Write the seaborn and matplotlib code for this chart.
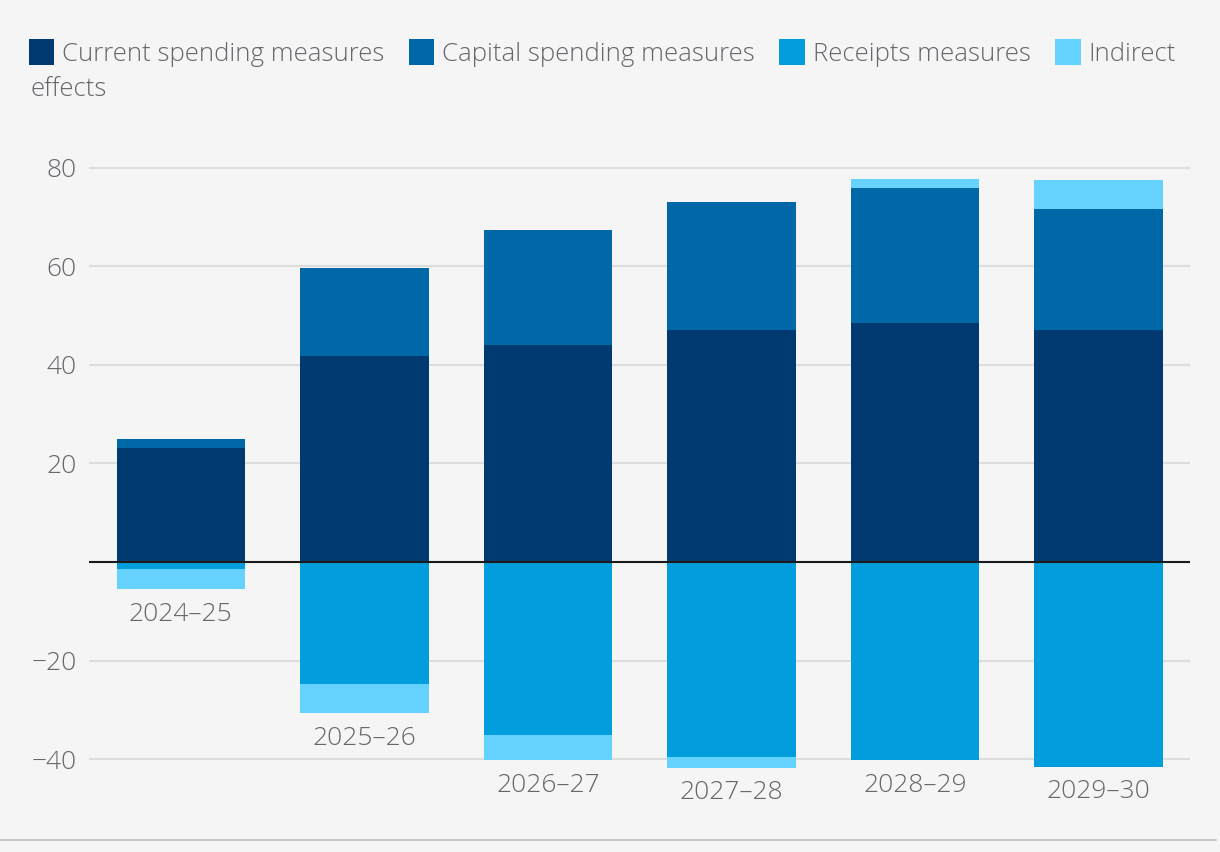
import pandas as pd
import seaborn as sns
import matplotlib.pyplot as plt
from matplotlib.patches import Patch
from matplotlib.lines import Line2D
import numpy as np

# data
years = ["2024–25", "2025–26", "2026–27", "2027–28", "2028–29", "2029–30"]
current = [23.1, 41.8, 44.1, 47.1, 48.5, 47.1]
capital = [1.9, 17.9, 23.3, 26.0, 27.4, 24.6]
receipts = [-1.4, -24.8, -35.1, -39.6, -40.2, -41.6]
indirect = [-4.1, -5.9, -5.1, -2.2, 1.9, 5.9]

labels = ["Current spending measures", "Capital spending measures", "Receipts measures", "Indirect"]
colors = ["#003a70", "#0068a6", "#029ddd", "#66d2fe"]

sns.set_theme(style="white")
plt.rcParams["font.family"] = ["Open Sans", "DejaVu Sans"]
bg = "#f5f5f5"
grey = "#66676c"

df = pd.DataFrame({"Year": years, "Current": current, "Capital": capital,
                   "Receipts": receipts, "Indirect": indirect})

fig = plt.figure(figsize=(12.2, 8.52), dpi=100, facecolor=bg)
ax = fig.add_axes([0.073, 0.086, 0.9025, 0.7516])
ax.set_facecolor(bg)

# stacking bases
pos_ind_bottom = df["Current"] + df["Capital"]
neg_ind_bottom = df["Receipts"]
ind_bottom = np.where(df["Indirect"] >= 0, pos_ind_bottom, neg_ind_bottom)

bar_kw = dict(width=0.7, saturation=1, ax=ax, zorder=2, edgecolor="none", linewidth=0)
sns.barplot(data=df, x="Year", y="Current", color=colors[0], **bar_kw)
sns.barplot(data=df, x="Year", y="Capital", bottom=df["Current"], color=colors[1], **bar_kw)
sns.barplot(data=df, x="Year", y="Receipts", color=colors[2], **bar_kw)
sns.barplot(data=df, x="Year", y="Indirect", bottom=ind_bottom, color=colors[3], **bar_kw)

ax.set_xlim(-0.5, 5.5)
ax.set_ylim(-44, 86)
ticks = [-40, -20, 20, 40, 60, 80]
ax.set_yticks(ticks)
ax.set_yticklabels([f"{t}".replace("-", "−") for t in ticks])
ax.yaxis.grid(True, color="#dddddd", linewidth=1.5, zorder=0)
ax.axhline(0, color="#1a1a1a", linewidth=1.5, zorder=3)
ax.tick_params(axis="y", length=0, pad=9, labelsize=19, labelcolor=grey)
for lab in ax.get_yticklabels():
    lab.set_fontweight("light")
ax.set_xticks([])
ax.set_xlabel("")
ax.set_ylabel("")
for s in ax.spines.values():
    s.set_visible(False)

# year labels sit under each bar's lowest point
lowest = df["Receipts"] + np.minimum(df["Indirect"], 0)
for i, yr in enumerate(years):
    ax.annotate(yr, xy=(i, lowest[i]), xytext=(0, -9), textcoords="offset points",
                ha="center", va="top", fontsize=19, color=grey, fontweight="light")

handles = [Patch(facecolor=c, edgecolor="none") for c in colors]
leg = fig.legend(handles, labels, loc="upper left", bbox_to_anchor=(0.015, 0.966), ncol=4,
                 frameon=False, fontsize=18.5, labelcolor=grey, handlelength=1.0, handleheight=1.15,
                 handletextpad=0.3, columnspacing=0.95, borderaxespad=0)
for t in leg.get_texts():
    t.set_fontweight("light")
fig.text(30 / 1220, 1 - 90 / 852, "effects", fontsize=18.5, color=grey, va="center", ha="left",
         fontweight="light")

fig.add_artist(Line2D([0, 0.997], [1 - 840 / 852] * 2, color="#c8c8c8", linewidth=1.5))

plt.savefig("out.png", dpi=100, facecolor=bg)
